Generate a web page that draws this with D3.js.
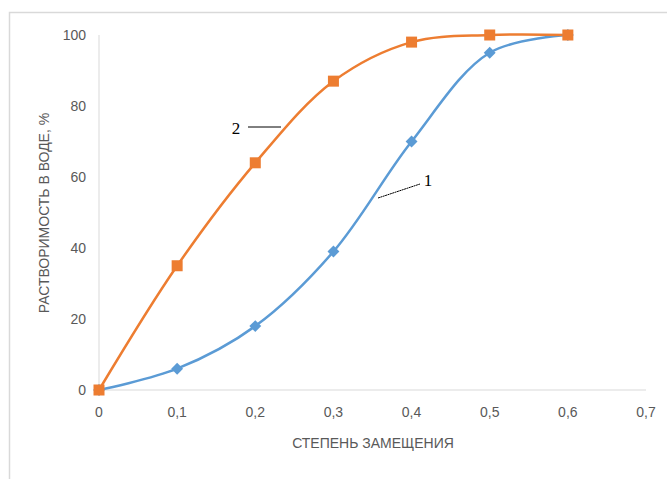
<!DOCTYPE html>
<html><head><meta charset="utf-8">
<script src="https://cdn.jsdelivr.net/npm/d3@7/dist/d3.min.js"></script>
<style>body{margin:0;background:#fff}</style>
</head><body>
<svg id="c" width="667" height="479"></svg>
<script>
const xValues = [0, 0.1, 0.2, 0.3, 0.4, 0.5, 0.6];
const series1 = [0, 6, 18, 39, 70, 95, 100];
const series2 = [0, 35, 64, 87, 98, 100, 100];
const xTicks = [0, 0.1, 0.2, 0.3, 0.4, 0.5, 0.6, 0.7];
const yTicks = [0, 20, 40, 60, 80, 100];

const svg = d3.select("#c");
svg.append("rect").attr("x",9.5).attr("y",12.5).attr("width",700).attr("height",520)
  .attr("fill","#fff").attr("stroke","#d9d9d9").attr("stroke-width",1.5);

const x = d3.scaleLinear().domain([0,0.7]).range([99,646]);
const y = d3.scaleLinear().domain([0,100]).range([390,35]);
const font = "'Liberation Sans Narrow','Liberation Sans',Arial,sans-serif";

svg.append("line").attr("x1",x(0)).attr("x2",x(0)).attr("y1",y(100)).attr("y2",y(0))
  .attr("stroke","#d9d9d9").attr("stroke-width",1);
svg.append("line").attr("x1",x(0)).attr("x2",x(0.7)).attr("y1",y(0)).attr("y2",y(0))
  .attr("stroke","#d9d9d9").attr("stroke-width",1);

const fmt = d => d === 0 ? "0" : d3.format(".1f")(d).replace(".", ",");
svg.selectAll(".xt").data(xTicks).enter().append("text")
  .attr("x", d=>x(d)).attr("y", 417).attr("text-anchor","middle")
  .attr("font-family",font).attr("font-size",14).attr("fill","#595959").text(fmt);
svg.selectAll(".yt").data(yTicks).enter().append("text")
  .attr("x", 86).attr("y", d=>y(d)+5).attr("text-anchor","end")
  .attr("font-family",font).attr("font-size",14).attr("fill","#595959").text(d=>d);

svg.append("text").attr("x",373).attr("y",448).attr("text-anchor","middle")
  .attr("font-family",font).attr("font-size",14).attr("fill","#595959").text("СТЕПЕНЬ ЗАМЕЩЕНИЯ");
svg.append("text").attr("transform","translate(49,213) rotate(-90)").attr("text-anchor","middle")
  .attr("font-family",font).attr("font-size",14).attr("fill","#595959").text("РАСТВОРИМОСТЬ В ВОДЕ, %");

const line = d3.line().x((d,i)=>x(xValues[i])).y(d=>y(d)).curve(d3.curveCatmullRom.alpha(0.5));
svg.append("path").attr("d", line(series1)).attr("fill","none").attr("stroke","#5B9BD5").attr("stroke-width",2.5);
svg.append("path").attr("d", line(series2)).attr("fill","none").attr("stroke","#ED7D31").attr("stroke-width",2.5);

svg.selectAll(".d1").data(series1).enter().append("path")
  .attr("d", d3.symbol(d3.symbolDiamond2, 90)())
  .attr("transform",(d,i)=>`translate(${x(xValues[i])},${y(d)})`).attr("fill","#5B9BD5");
svg.selectAll(".d2").data(series2).enter().append("rect")
  .attr("x",(d,i)=>x(xValues[i])-5.5).attr("y",d=>y(d)-5.5).attr("width",11).attr("height",11)
  .attr("fill","#ED7D31");

const serif = "'Liberation Serif','Times New Roman',serif";
svg.append("text").attr("x",236).attr("y",134).attr("text-anchor","middle")
  .attr("font-family",serif).attr("font-size",17).attr("fill","#000").text("2");
svg.append("line").attr("x1",248).attr("x2",281).attr("y1",127).attr("y2",127).attr("stroke","#000").attr("stroke-width",1);
svg.append("text").attr("x",428).attr("y",186).attr("text-anchor","middle")
  .attr("font-family",serif).attr("font-size",17).attr("fill","#000").text("1");
svg.append("line").attr("x1",378).attr("x2",420).attr("y1",198).attr("y2",184).attr("stroke","#000").attr("stroke-width",1).attr("stroke-dasharray","2,0.5");
</script>
</body></html>
